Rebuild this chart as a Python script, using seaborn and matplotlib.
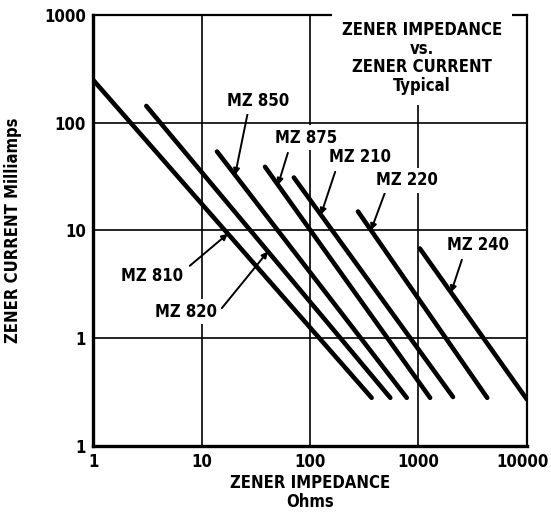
import numpy as np
import pandas as pd
import matplotlib
matplotlib.use("Agg")
import matplotlib.pyplot as plt
import matplotlib.transforms as mtransforms
import seaborn as sns

# zener impedance (ohms) vs zener current (mA), one straight run per device
devices = ["MZ 810", "MZ 820", "MZ 850", "MZ 875", "MZ 210", "MZ 220", "MZ 240"]
start_ohms = [1, 3.1, 13.9, 38.5, 71, 277, 1030]
start_ma = [250, 143, 54, 39, 31, 15, 6.8]
end_ohms = [370, 550, 780, 1280, 2080, 4300, 10000]
end_ma = [0.28, 0.28, 0.28, 0.28, 0.285, 0.28, 0.27]

# where each label's arrow touches its line (ohms)
arrow_ohms = [17.5, 41, 20.4, 50.7, 126, 365, 1995]

x_ticks = [1, 10, 100, 1000, 10000]
x_tick_labels = ["1", "10", "100", "1000", "10000"]
y_ticks = [0.1, 1, 10, 100, 1000]
y_tick_labels = ["1", "1", "10", "100", "1000"]

rows = []
for i in range(len(devices)):
    rows.append({"device": devices[i], "ohms": start_ohms[i], "ma": start_ma[i]})
    rows.append({"device": devices[i], "ohms": end_ohms[i], "ma": end_ma[i]})
df = pd.DataFrame(rows)

sns.set_style("white")
plt.rcParams["font.family"] = ["Liberation Sans Narrow", "DejaVu Sans"]
plt.rcParams["font.stretch"] = "condensed"
plt.rcParams["font.weight"] = "bold"
plt.rcParams["text.color"] = "black"
plt.rcParams["axes.labelcolor"] = "black"
plt.rcParams["xtick.color"] = "black"
plt.rcParams["ytick.color"] = "black"

fig = plt.figure(figsize=(5.51, 5.15), dpi=100)
ax = fig.add_axes([0.1688, 0.134, 0.7876, 0.837])

sns.lineplot(data=df, x="ohms", y="ma", hue="device",
             palette=["black"] * len(devices), estimator=None, sort=False,
             legend=False, linewidth=3.3, solid_capstyle="round", ax=ax)

ax.set_xscale("log")
ax.set_yscale("log")
ax.set_xlim(1, 10000)
ax.set_ylim(0.1, 1000)
ax.set_xticks(x_ticks)
ax.set_xticklabels(x_tick_labels)
ax.set_yticks(y_ticks)
ax.set_yticklabels(y_tick_labels)
ax.minorticks_off()
ax.tick_params(length=0, labelsize=12, pad=5)
for lab in ax.get_xticklabels() + ax.get_yticklabels():
    lab.set_fontweight("bold")
# nudge the last x label in so it stays on the canvas
last = ax.get_xticklabels()[-1]
last.set_transform(last.get_transform() +
                   mtransforms.ScaledTranslation(-3 / 72, 0, fig.dpi_scale_trans))

ax.grid(True, which="major", color="black", linewidth=1.2)
ax.set_axisbelow(True)
for side in ["left", "bottom"]:
    ax.spines[side].set_linewidth(2.4)
for side in ["top", "right"]:
    ax.spines[side].set_linewidth(1.6)
for sp in ax.spines.values():
    sp.set_color("black")

ax.set_xlabel("ZENER IMPEDANCE\nOhms", fontsize=12, fontweight="bold",
              labelpad=2, linespacing=1.1)
ax.set_ylabel("ZENER CURRENT Milliamps", fontsize=12, fontweight="bold",
              labelpad=16)

ax.text(0.758, 0.900, "ZENER IMPEDANCE\nvs.\nZENER CURRENT\nTypical",
        transform=ax.transAxes, ha="center", va="center", fontsize=12,
        fontweight="bold", linespacing=1.05,
        bbox=dict(facecolor="white", edgecolor="none", pad=7))

# label position and arrow tail, in axes fractions
label_pos = [(0.136, 0.394), (0.214, 0.311), (0.380, 0.800), (0.491, 0.715),
             (0.615, 0.671), (0.724, 0.617), (0.887, 0.466)]
tail_pos = [(0.223, 0.418), (0.297, 0.320), (0.357, 0.775), (0.449, 0.680),
            (0.558, 0.636), (0.675, 0.594), (0.850, 0.432)]

for i in range(len(devices)):
    lx = np.log10([start_ohms[i], end_ohms[i]])
    ly = np.log10([start_ma[i], end_ma[i]])
    tx = arrow_ohms[i]
    ty = 10 ** np.interp(np.log10(tx), lx, ly)
    ax.annotate("", xy=(tx, ty), xycoords="data",
                xytext=tail_pos[i], textcoords="axes fraction",
                arrowprops=dict(arrowstyle="-|>", color="black", lw=1.4,
                                mutation_scale=9, shrinkA=0, shrinkB=0))
    ax.text(label_pos[i][0], label_pos[i][1], devices[i],
            transform=ax.transAxes, ha="center", va="center", fontsize=12,
            fontweight="bold",
            bbox=dict(facecolor="white", edgecolor="none", pad=2.5))

plt.savefig("out.png", dpi=100)
plt.close()
